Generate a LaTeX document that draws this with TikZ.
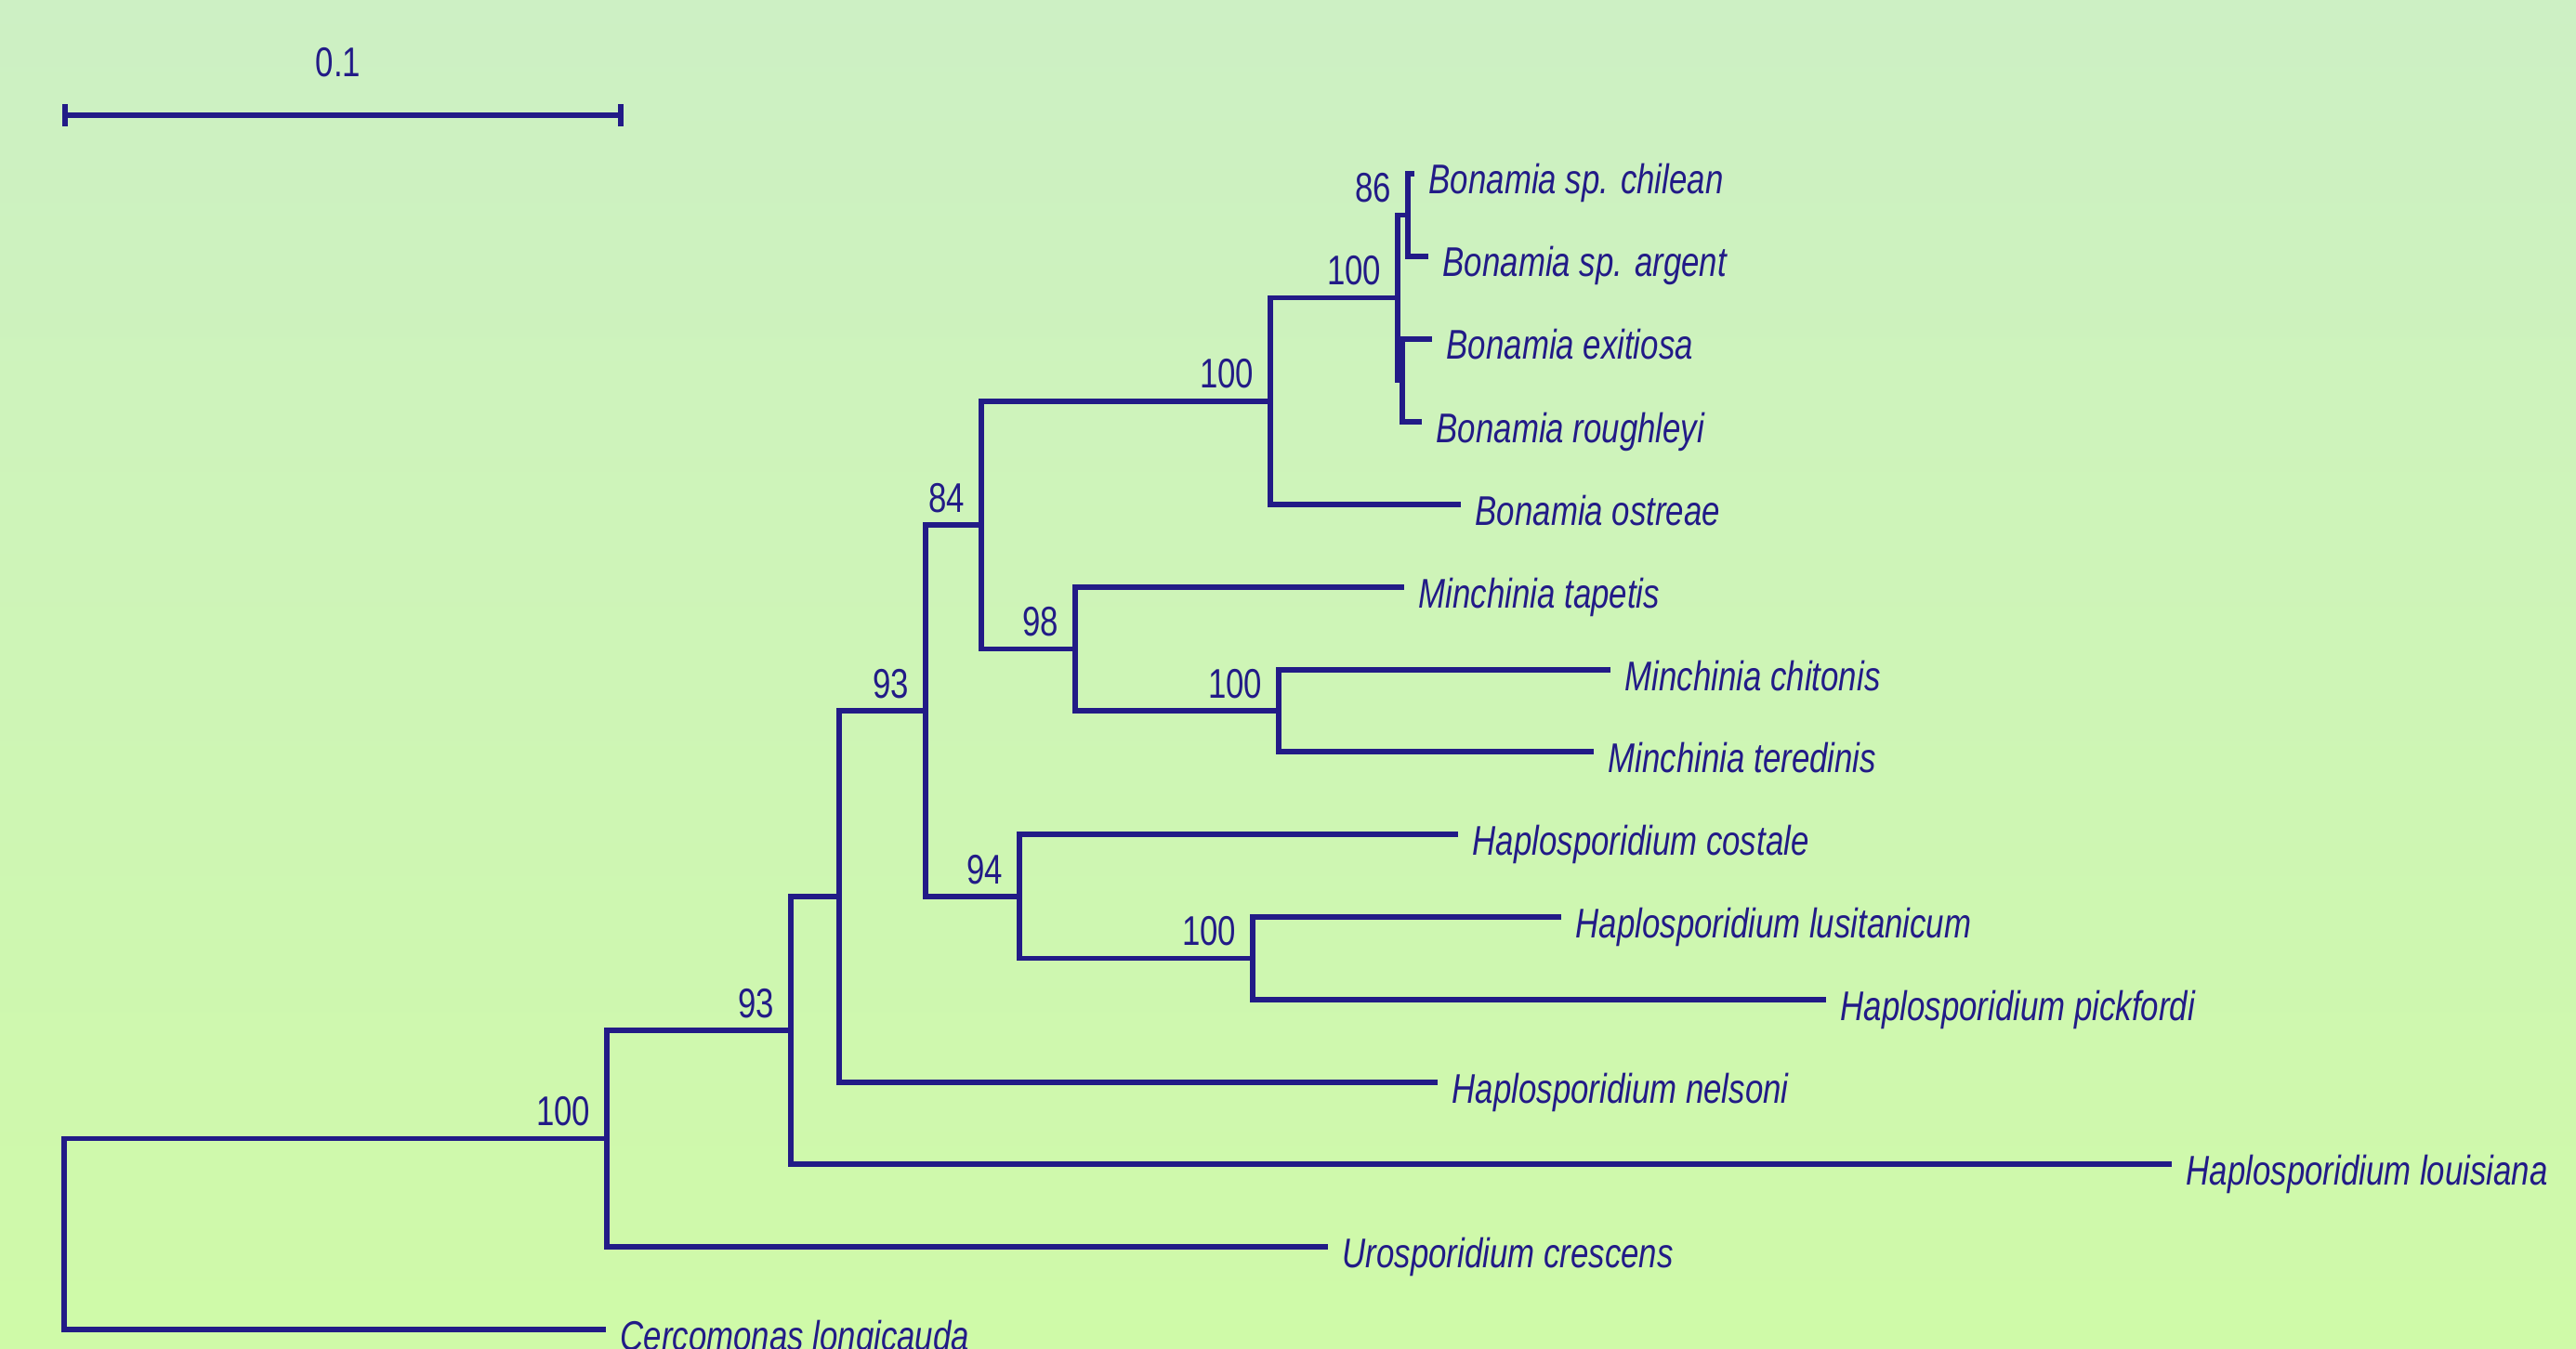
\documentclass[tikz,border=0pt]{standalone}
\usepackage{fontspec}
\setmainfont{Liberation Sans}[FakeStretch=0.78]
\usepackage{tikz}
\definecolor{treeblue}{RGB}{34,27,135}
\definecolor{bgtop}{RGB}{205,240,196}
\definecolor{bgbot}{RGB}{207,250,168}
\tikzset{>=latex}

\begin{document}
\begin{tikzpicture}[branch/.style={draw=treeblue, line width=1.5pt},
  taxon/.style={anchor=base west, inner sep=0pt, xshift=0.15cm, yshift=-0.22cm, text=treeblue, font=\fontsize{12.7}{15}\selectfont\itshape},
  boot/.style={anchor=base east, inner sep=0pt, xshift=-0.17cm, yshift=0.14cm, text=treeblue, font=\fontsize{12.7}{15}\selectfont}]
\useasboundingbox (0,0) rectangle (27.72,14.51);
\shade[top color=bgtop, bottom color=bgbot] (0,0) rectangle (27.72,14.51);
\clip (0,0) rectangle (27.72,14.51);

% scale bar
\coordinate (s0) at (0.70,13.27);
\coordinate (s1) at (6.68,13.27);
\draw[branch] (s0) -- (s1);
\draw[branch] (0.70,13.15) -- (0.70,13.39);
\draw[branch] (6.68,13.15) -- (6.68,13.39);
\node[anchor=base, inner sep=0pt, text=treeblue, font=\fontsize{12.7}{15}\selectfont] (scale) at (3.64,13.68) {0.1};

% internal nodes
\coordinate (root) at (0.69,1.23);
\coordinate (n100a) at (6.53,2.255);
\coordinate (n93a) at (8.51,3.42);
\coordinate (nhap) at (9.03,4.86);
\coordinate (n93b) at (9.96,6.86);
\coordinate (n84) at (10.56,8.86);
\coordinate (n100b) at (13.67,10.19);
\coordinate (n100c) at (15.04,11.305);
\coordinate (n86) at (15.15,12.195);
\coordinate (nbon) at (15.09,10.415);
\coordinate (n98) at (11.57,7.525);
\coordinate (n100d) at (13.76,6.86);
\coordinate (n94) at (10.97,4.86);
\coordinate (n100e) at (13.48,4.195);

% tips
\coordinate (t-chilean) at (15.22,12.64);
\coordinate (t-argent) at (15.37,11.75);
\coordinate (t-exitiosa) at (15.41,10.86);
\coordinate (t-roughleyi) at (15.30,9.97);
\coordinate (t-ostreae) at (15.72,9.08);
\coordinate (t-tapetis) at (15.11,8.19);
\coordinate (t-chitonis) at (17.33,7.30);
\coordinate (t-teredinis) at (17.15,6.42);
\coordinate (t-costale) at (15.69,5.53);
\coordinate (t-lusitanicum) at (16.80,4.64);
\coordinate (t-pickfordi) at (19.65,3.75);
\coordinate (t-nelsoni) at (15.47,2.86);
\coordinate (t-louisiana) at (23.37,1.98);
\coordinate (t-crescens) at (14.29,1.09);
\coordinate (t-longicauda) at (6.52,0.20);

\node[taxon] (chilean) at (t-chilean) {Bonamia sp. chilean};
\node[taxon] (argent) at (t-argent) {Bonamia sp. argent};
\node[taxon] (exitiosa) at (t-exitiosa) {Bonamia exitiosa};
\node[taxon] (roughleyi) at (t-roughleyi) {Bonamia roughleyi};
\node[taxon] (ostreae) at (t-ostreae) {Bonamia ostreae};
\node[taxon] (tapetis) at (t-tapetis) {Minchinia tapetis};
\node[taxon] (chitonis) at (t-chitonis) {Minchinia chitonis};
\node[taxon] (teredinis) at (t-teredinis) {Minchinia teredinis};
\node[taxon] (costale) at (t-costale) {Haplosporidium costale};
\node[taxon] (lusitanicum) at (t-lusitanicum) {Haplosporidium lusitanicum};
\node[taxon] (pickfordi) at (t-pickfordi) {Haplosporidium pickfordi};
\node[taxon] (nelsoni) at (t-nelsoni) {Haplosporidium nelsoni};
\node[taxon] (louisiana) at (t-louisiana) {Haplosporidium louisiana};
\node[taxon] (crescens) at (t-crescens) {Urosporidium crescens};
\node[taxon] (longicauda) at (t-longicauda) {Cercomonas longicauda};

% branches
\draw[branch] (root) |- (n100a) (root) |- (t-longicauda);
\draw[branch] (n100a) |- (n93a) (n100a) |- (t-crescens);
\draw[branch] (n93a) |- (nhap) (n93a) |- (t-louisiana);
\draw[branch] (nhap) |- (n93b) (nhap) |- (t-nelsoni);
\draw[branch] (n93b) |- (n84) (n93b) |- (n94);
\draw[branch] (n84) |- (n100b) (n84) |- (n98);
\draw[branch] (n100b) |- (n100c) (n100b) |- (t-ostreae);
\draw[branch] (n100c) |- (n86) (n100c) |- (nbon);
\draw[branch] (n86) |- (t-chilean) (n86) |- (t-argent);
\draw[branch] (nbon) |- (t-exitiosa) (nbon) |- (t-roughleyi);
\draw[branch] (n98) |- (t-tapetis) (n98) |- (n100d);
\draw[branch] (n100d) |- (t-chitonis) (n100d) |- (t-teredinis);
\draw[branch] (n94) |- (t-costale) (n94) |- (n100e);
\draw[branch] (n100e) |- (t-lusitanicum) (n100e) |- (t-pickfordi);

% bootstrap values
\node[boot] (b100a) at (n100a) {100};
\node[boot] (b93a) at (n93a) {93};
\node[boot] (b93b) at (n93b) {93};
\node[boot] (b84) at (n84) {84};
\node[boot] (b100b) at (n100b) {100};
\node[boot] (b100c) at (n100c) {100};
\node[boot] (b86) at (n86) {86};
\node[boot] (b98) at (n98) {98};
\node[boot] (b100d) at (n100d) {100};
\node[boot] (b94) at (n94) {94};
\node[boot] (b100e) at (n100e) {100};
\end{tikzpicture}
\end{document}
